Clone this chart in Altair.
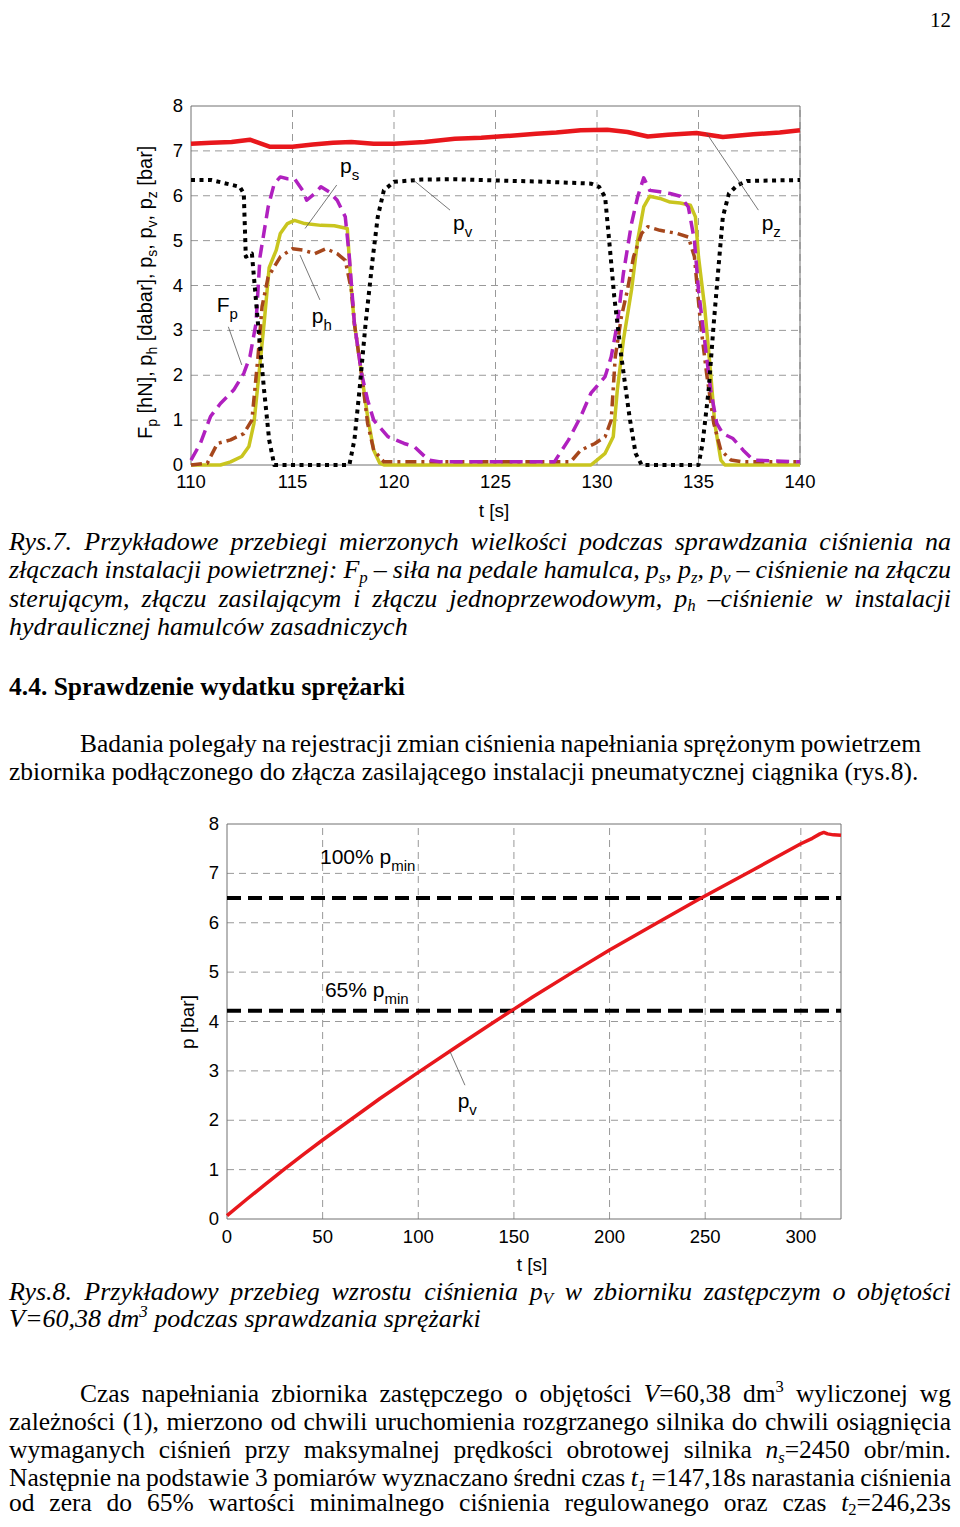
import string
import altair as alt
import pandas as pd

OFF = 8
W, H = 944, 1511

# ---------------- Rys.7 data (t [s], value) ----------------
pz_t = [110, 111, 112, 112.9, 113.9, 115, 116, 117, 117.9, 119, 120, 121.5, 123, 124.3, 125.5, 127, 128, 129.2,
        130.5, 131.5, 132.5, 133.5, 134.9, 136.2, 137.7, 139, 140]
pz_v = [7.16, 7.18, 7.2, 7.25, 7.09, 7.09, 7.14, 7.18, 7.2, 7.16, 7.16, 7.2, 7.27, 7.29, 7.33, 7.38, 7.41, 7.46,
        7.47, 7.42, 7.32, 7.36, 7.4, 7.31, 7.37, 7.41, 7.46]

pv_t = [110, 111, 112.4, 112.6, 112.7, 113.0, 113.3, 113.6, 113.85, 114.1, 117.8, 118.05, 118.3, 118.6, 118.96,
        119.2, 119.5, 120.0, 121.35, 123, 124.3, 127.6, 129.7, 130.1, 130.4, 130.6, 130.85, 131.2, 131.6, 131.9,
        132.2, 135.0, 135.2, 135.5, 135.75, 136.0, 136.2, 136.5, 136.9, 137.4, 140]
pv_v = [6.35, 6.35, 6.2, 6.05, 4.64, 4.71, 3.15, 1.67, 0.56, 0, 0, 0.56, 1.67, 3.15, 4.64,
        5.53, 6.12, 6.31, 6.36, 6.37, 6.35, 6.31, 6.27, 6.2, 5.97, 5.0, 3.75, 2.41, 1.08, 0.26,
        0, 0, 0.48, 1.67, 3.15, 4.49, 5.53, 6.05, 6.23, 6.33, 6.35]

ps_t = [110, 110.46, 110.96, 111.45, 112.1, 112.6, 112.9, 113.2, 113.4, 113.8, 114.1, 114.4, 114.75, 115.1, 115.5,
        115.7, 116.1, 116.4, 116.8, 117.2, 117.6, 117.8, 118.05, 118.4, 118.7, 119.0, 119.7, 120.5, 121.0, 121.7,
        122.3, 127.9, 128.6, 129.2, 129.7, 130.4, 130.7, 131.0, 131.3, 131.7, 132.0, 132.3, 132.6, 133.1, 133.6,
        134.1, 134.5, 134.8, 135.0, 135.3, 135.6, 135.9, 136.2, 136.7, 137.2, 137.7, 140]
ps_v = [0.11, 0.48, 1.08, 1.37, 1.67, 2.04, 2.41, 3.15, 4.64, 5.75, 6.27, 6.42, 6.38, 6.38, 6.12,
        5.9, 6.05, 6.2, 6.09, 5.9, 5.53, 4.64, 3.15, 2.04, 1.45, 1.0, 0.63, 0.48, 0.41, 0.11,
        0.07, 0.07, 0.56, 1.08, 1.6, 1.97, 2.41, 3.15, 4.27, 5.38, 5.97, 6.4, 6.12, 6.09, 6.05,
        5.99, 5.75, 5.0, 3.9, 2.78, 1.67, 0.93, 0.7, 0.59, 0.33, 0.11, 0.07]

ph_t = [110, 110.8, 111.3, 111.95, 112.6, 113.0, 113.3, 113.5, 113.8, 114.0, 114.4, 115.0, 115.5, 116.1, 116.65,
        117.2, 117.6, 117.9, 118.05, 118.4, 118.7, 119.0, 119.5, 128.7, 129.2, 129.9, 130.4, 130.7, 130.9, 131.2,
        131.5, 131.8, 132.2, 132.5, 133.1, 133.95, 134.5, 134.8, 135.1, 135.4, 135.75, 136.1, 136.6, 137.2, 140]
ph_v = [0.0, 0.04, 0.48, 0.56, 0.7, 1.0, 2.41, 3.53, 4.19, 4.34, 4.64, 4.82, 4.79, 4.71, 4.82,
        4.71, 4.56, 3.9, 3.15, 2.04, 0.93, 0.33, 0.07, 0.07, 0.33, 0.48, 0.63, 1.0, 2.41, 3.3,
        3.9, 4.64, 5.16, 5.31, 5.23, 5.16, 5.08, 4.64, 3.15, 2.04, 0.93, 0.33, 0.11, 0.07, 0.07]

fp_t = [110, 111.45, 111.95, 112.5, 112.85, 113.1, 113.35, 113.6, 113.85, 114.2, 114.4, 114.75, 115.1, 115.6,
        116.4, 117.06, 117.7, 117.9, 118.05, 118.4, 118.7, 119.0, 119.3, 119.5, 129.7, 130.0, 130.4, 130.8,
        131.0, 131.3, 131.7, 132.0, 132.3, 132.6, 133.1, 133.6, 134.1, 134.6, 134.85, 135.0, 135.3, 135.6,
        135.8, 136.1, 136.3, 140]
fp_v = [0, 0, 0.07, 0.19, 0.41, 0.93, 2.04, 3.15, 4.4, 4.79, 5.16, 5.38, 5.45, 5.38,
        5.34, 5.33, 5.27, 3.9, 3.15, 2.04, 1.08, 0.33, 0.04, 0, 0, 0.11, 0.26, 0.63,
        1.67, 2.78, 3.9, 5.0, 5.75, 5.99, 5.94, 5.86, 5.84, 5.79, 5.53, 4.64, 3.53, 2.04,
        0.93, 0.11, 0, 0]

ticks7_t = [110, 115, 120, 125, 130, 135, 140]
ticks7_v = [0, 1, 2, 3, 4, 5, 6, 7, 8]

ann7_main = ["p", "p", "F", "p", "p"]
ann7_sub = ["s", "v", "p", "h", "z"]
ann7_t = [117.34, 122.91, 111.27, 115.95, 138.11]
ann7_v = [6.51, 5.24, 3.42, 3.16, 5.24]
lead7_t1 = [117.18, 122.76, 111.84, 116.35, 137.95]
lead7_v1 = [6.24, 5.68, 3.08, 3.68, 5.68]
lead7_t2 = [115.62, 120.95, 112.50, 115.37, 135.40]
lead7_v2 = [5.27, 6.35, 2.23, 4.68, 7.39]

# ---------------- Rys.8 data ----------------
bv_t = [0, 10, 20, 30, 40, 50, 65, 80, 100, 120, 140, 160, 180, 200, 225, 246, 275, 300, 306, 310, 312, 314,
        317, 321]
bv_v = [0.07, 0.39, 0.7, 1.01, 1.31, 1.6, 2.02, 2.44, 2.97, 3.49, 4.0, 4.5, 4.98, 5.45, 6.0, 6.46, 7.07, 7.6,
        7.71, 7.8, 7.83, 7.8, 7.78, 7.77]
pmin_levels = [6.5, 4.22]
ticks8_t = [0, 50, 100, 150, 200, 250, 300]
ticks8_v = [0, 1, 2, 3, 4, 5, 6, 7, 8]
ann8_main = ["100% p", "65% p", "p"]
ann8_sub = ["min", "min", "v"]
ann8_t = [48.6, 51.2, 120.6]
ann8_v = [7.2, 4.5, 2.24]
lead8_t1 = [124.4]
lead8_v1 = [2.71]
lead8_t2 = [116.6]
lead8_v2 = [3.39]

# ---------------- page text ----------------
page_no = "12"
caption7 = [
    "Rys.7. Przykładowe przebiegi mierzonych wielkości podczas sprawdzania ciśnienia na",
    "złączach instalacji powietrznej: F_{p} – siła na pedale hamulca, p_{s}, p_{z}, p_{v} – ciśnienie na złączu",
    "sterującym, złączu zasilającym i złączu jednoprzewodowym, p_{h} –ciśnienie w instalacji",
    "hydraulicznej hamulców zasadniczych",
]
heading = "4.4. Sprawdzenie wydatku sprężarki"
para1 = [
    "Badania polegały na rejestracji zmian ciśnienia napełniania sprężonym powietrzem",
    "zbiornika podłączonego do złącza zasilającego instalacji pneumatycznej ciągnika (rys.8).",
]
caption8 = [
    "Rys.8. Przykładowy przebieg wzrostu ciśnienia p_{V} w zbiorniku zastępczym o objętości",
    "V=60,38 dm^{3} podczas sprawdzania sprężarki",
]
para2 = [
    "Czas napełniania zbiornika zastępczego o objętości *V*=60,38 dm^{3} wyliczonej wg",
    "zależności (1), mierzono od chwili uruchomienia rozgrzanego silnika do chwili osiągnięcia",
    "wymaganych ciśnień przy maksymalnej prędkości obrotowej silnika *n*_{*s*}=2450 obr/min.",
    "Następnie na podstawie 3 pomiarów wyznaczano średni czas *t*_{*1*} =147,18s narastania ciśnienia",
    "od zera do 65% wartości minimalnego ciśnienia regulowanego oraz czas *t*_{2}=246,23s",
]
ytitle7 = [("F", "n"), ("p", "sub"), (" [hN], p", "n"), ("h", "sub"), (" [dabar], p", "n"), ("s", "sub"),
           (", p", "n"), ("v", "sub"), (", p", "n"), ("z", "sub"), (" [bar]", "n")]
ytitle8 = [("p [bar]", "n")]
xtitle = "t [s]"


# ---------------- font metrics (approximate, per 1000 em) ----------------
def mk(lower, upper, extra):
    d = dict(zip(string.ascii_lowercase, map(int, lower.split())))
    d.update(zip(string.ascii_uppercase, map(int, upper.split())))
    d.update({c: extra.get("digit", 500) for c in string.digits})
    d.update(extra)
    return d


PUNCT_T = {" ": 250, ".": 250, ",": 250, ":": 278, ";": 278, "(": 333, ")": 333, "%": 833, "=": 564, "/": 278,
           "-": 333, "–": 500}
TIMES_R = mk("444 500 444 500 444 333 500 500 278 278 500 278 778 500 500 500 500 333 389 278 500 500 722 500 500 444",
             "722 667 667 722 611 556 722 722 333 389 722 611 889 722 722 556 722 667 556 611 722 722 944 722 722 611",
             PUNCT_T)
TIMES_I = mk("500 500 444 500 444 278 500 500 278 278 444 278 722 500 500 500 500 389 389 278 500 444 667 444 444 389",
             "611 611 667 722 611 611 722 722 333 444 667 556 833 667 722 611 722 611 500 556 722 611 833 611 556 556",
             dict(PUNCT_T, **{":": 333, "=": 675}))
TIMES_B = mk("500 556 444 556 444 333 500 556 278 333 556 278 833 556 500 556 556 444 389 333 556 500 722 500 500 444",
             "722 667 722 722 667 611 778 778 389 500 778 667 944 722 778 611 778 722 556 667 722 722 1000 722 722 667",
             PUNCT_T)
ARIAL = mk("556 556 500 556 556 278 556 556 222 222 500 222 833 556 556 556 556 333 500 278 556 500 722 500 500 500",
           "667 667 722 722 667 611 778 722 278 500 667 556 833 722 778 667 778 722 667 611 722 667 944 667 667 611",
           {"digit": 556, " ": 278, "[": 278, "]": 278, ",": 278, ".": 278, "%": 889})
DIAC = {"ą": "a", "ę": "e", "ś": "s", "ć": "c", "ń": "n", "ż": "z", "ź": "z", "ó": "o", "ł": "l"}
SUBSCALE = 0.65


def width(text, table, fs):
    return sum(table.get(DIAC.get(c, c), 500) for c in text) / 1000.0 * fs


def parse_line(line, italic0):
    chars, italic, kind, i = [], italic0, "n", 0
    while i < len(line):
        c = line[i]
        if c == "*":
            italic = not italic
        elif c in "_^" and line[i + 1:i + 2] == "{":
            kind = "sub" if c == "_" else "sup"
            i += 1
        elif c == "}" and kind != "n":
            kind = "n"
        else:
            chars.append((c, italic, kind))
        i += 1
    words, cur = [], []
    for ch in chars:
        if ch[0] == " " and ch[2] == "n":
            if cur:
                words.append(cur)
            cur = []
        else:
            cur.append(ch)
    if cur:
        words.append(cur)
    out = []
    for w in words:
        segs = []
        for c, it, k in w:
            if segs and segs[-1][1] == it and segs[-1][2] == k:
                segs[-1][0] += c
            else:
                segs.append([c, it, k])
        out.append(segs)
    return out


def seg_w(seg, fs, bold):
    text, it, kind = seg
    table = TIMES_B if bold else (TIMES_I if it else TIMES_R)
    return width(text, table, fs * (SUBSCALE if kind != "n" else 1))


def layout_line(line, x0, y, fs, italic0=False, bold=False, x1=None):
    words = parse_line(line, italic0)
    ws = [sum(seg_w(s, fs, bold) for s in w) for w in words]
    if x1 is not None and len(words) > 1:
        gap = (x1 - x0 - sum(ws)) / (len(words) - 1)
    else:
        gap = 0.25 * fs
    rows, x = [], x0
    for w, ww in zip(words, ws):
        cx = x
        for seg in w:
            text, it, kind = seg
            size = fs * SUBSCALE if kind != "n" else fs
            dy = 0.17 * fs if kind == "sub" else (-0.38 * fs if kind == "sup" else 0)
            style = "bold" if bold else ("italic" if it else "normal")
            rows.append(dict(x=cx - OFF, y=y + dy - OFF, text=text, size=size, style=style))
            cx += seg_w(seg, fs, bold)
        x += ww + gap
    return rows


LM, RM = 9, 951          # text block left / right edge on the page
serif_rows = []
serif_rows += layout_line(page_no, RM - width(page_no, TIMES_R, 21), 27, 21)
FS_I, FS_R = 26, 25.5
for i, (ln, yb) in enumerate(zip(caption7, [550, 578.3, 606.7, 635])):
    serif_rows += layout_line(ln, LM, yb, FS_I, italic0=True, x1=RM if i < len(caption7) - 1 else None)
serif_rows += layout_line(heading, LM, 695, 25.5, bold=True)
serif_rows += layout_line(para1[0], 80, 751.7, FS_R, x1=921)
serif_rows += layout_line(para1[1], LM, 780, FS_R)
serif_rows += layout_line(caption8[0], LM, 1300, FS_I, italic0=True, x1=RM)
serif_rows += layout_line(caption8[1], LM, 1326.7, FS_I, italic0=True)
for i, (ln, yb) in enumerate(zip(para2, [1401.7, 1430, 1458.3, 1486.2, 1511])):
    serif_rows += layout_line(ln, 80 if i == 0 else LM, yb, FS_R, x1=RM)
serif_df = pd.DataFrame(serif_rows)


def rot_rows(pieces, xb, y0, fs, fs_sub, shift):
    rows, L = [], 0.0
    for text, kind in pieces:
        size = fs if kind == "n" else fs_sub
        lead = len(text) - len(text.lstrip(" "))
        L += width(" " * lead, ARIAL, size)
        t = text.strip(" ")
        rows.append(dict(x=xb + (shift if kind == "sub" else 0) - OFF, y=y0 - L - OFF, text=t, size=size))
        L += width(t, ARIAL, size)
    return rows


rot_df = pd.DataFrame(rot_rows(ytitle7, 152, 439, 20, 14, 5)
                      + rot_rows(ytitle8, 194, 1022 + width(ytitle8[0][0], ARIAL, 19) / 2, 19, 14, 5))
xt_df = pd.DataFrame([dict(x=494 - OFF, y=517 - OFF, text=xtitle, size=19),
                      dict(x=532 - OFF, y=1271 - OFF, text=xtitle, size=19)])

# ---------------- scales ----------------
TX = alt.Scale(domain=[110, 140], range=[191 - OFF, 800 - OFF], nice=False, zero=False)
TY = alt.Scale(domain=[0, 8], range=[465 - OFF, 106 - OFF], nice=False, zero=False)
BX = alt.Scale(domain=[0, 321], range=[227 - OFF, 841 - OFF], nice=False, zero=False)
BY = alt.Scale(domain=[0, 8], range=[1219 - OFF, 824 - OFF], nice=False, zero=False)

GRID = dict(color="#999999", strokeWidth=1, strokeDash=[7, 5])
FRAME = dict(fillOpacity=0, stroke="#707070", strokeWidth=1)
TICKFONT = dict(font="Liberation Sans", fontSize=18.5, color="black")


def pair(ts, vs, name):
    assert len(ts) == len(vs), (name, len(ts), len(vs))
    return pd.DataFrame({"t": ts, "v": vs})


def plot_layers(sx, sy, xdom, ydom, xticks, yticks, xdy):
    xgrid, ygrid = xticks[1:], yticks[1:-1]
    gv = alt.Chart(pd.DataFrame({"t": xgrid, "a": ydom[0], "b": ydom[1]})).mark_rule(**GRID).encode(
        x=alt.X("t:Q", scale=sx, axis=None), y=alt.Y("a:Q", scale=sy, axis=None), y2="b:Q")
    gh = alt.Chart(pd.DataFrame({"v": ygrid, "a": xdom[0], "b": xdom[1]})).mark_rule(**GRID).encode(
        y=alt.Y("v:Q", scale=sy, axis=None), x=alt.X("a:Q", scale=sx, axis=None), x2="b:Q")
    fr = alt.Chart(pd.DataFrame({"a": [xdom[0]], "b": [xdom[1]], "c": [ydom[0]], "d": [ydom[1]]})).mark_rect(
        **FRAME).encode(x=alt.X("a:Q", scale=sx, axis=None), x2="b:Q", y=alt.Y("c:Q", scale=sy, axis=None),
                        y2="d:Q")
    xl = alt.Chart(pd.DataFrame({"t": xticks, "v": ydom[0]})).mark_text(
        align="center", baseline="middle", dy=xdy, **TICKFONT).encode(
        x=alt.X("t:Q", scale=sx, axis=None), y=alt.Y("v:Q", scale=sy, axis=None), text=alt.Text("t:Q", format="d"))
    yl = alt.Chart(pd.DataFrame({"v": yticks, "t": xdom[0]})).mark_text(
        align="right", baseline="middle", dx=-8, **TICKFONT).encode(
        x=alt.X("t:Q", scale=sx, axis=None), y=alt.Y("v:Q", scale=sy, axis=None), text=alt.Text("v:Q", format="d"))
    return [gv, gh, fr, xl, yl]


def line(df, sx, sy, **kw):
    return alt.Chart(df).mark_line(strokeJoin="round", **kw).encode(
        x=alt.X("t:Q", scale=sx, axis=None), y=alt.Y("v:Q", scale=sy, axis=None))


def leaders(t1, v1, t2, v2, sx, sy):
    df = pd.DataFrame({"t1": t1, "v1": v1, "t2": t2, "v2": v2})
    return alt.Chart(df).mark_rule(color="#555555", strokeWidth=0.8).encode(
        x=alt.X("t1:Q", scale=sx, axis=None), x2="t2:Q", y=alt.Y("v1:Q", scale=sy, axis=None), y2="v2:Q")


def annotations(mains, subs, ts, vs, sx, sy, px_t, px_v, fs=21, fs_sub=15, drop=7):
    rows = []
    for m, s, t, v in zip(mains, subs, ts, vs):
        rows.append(dict(t=t, v=v, text=m, size=fs))
        rows.append(dict(t=t + width(m, ARIAL, fs) / px_t, v=v - drop / px_v, text=s, size=fs_sub))
    return alt.Chart(pd.DataFrame(rows)).mark_text(
        align="left", baseline="alphabetic", font="Liberation Sans", color="black").encode(
        x=alt.X("t:Q", scale=sx, axis=None), y=alt.Y("v:Q", scale=sy, axis=None), text="text:N",
        size=alt.Size("size:Q", scale=None, legend=None))


# ---------------- Rys.7 ----------------
PX_T7, PX_V7 = (800 - 191) / 30.0, (465 - 106) / 8.0
top = alt.layer(
    *plot_layers(TX, TY, [110, 140], [0, 8], ticks7_t, ticks7_v, 16.5),
    line(pair(fp_t, fp_v, "Fp"), TX, TY, color="#c9c51f", strokeWidth=3.5),
    line(pair(ph_t, ph_v, "ph"), TX, TY, color="#a6471c", strokeWidth=3.5, strokeDash=[11, 5, 3, 5]),
    line(pair(ps_t, ps_v, "ps"), TX, TY, color="#b020bf", strokeWidth=3.5, strokeDash=[13, 7]),
    line(pair(pv_t, pv_v, "pv"), TX, TY, color="#000000", strokeWidth=4, strokeDash=[4, 4.5]),
    line(pair(pz_t, pz_v, "pz"), TX, TY, color="#e8171c", strokeWidth=4.5),
    leaders(lead7_t1, lead7_v1, lead7_t2, lead7_v2, TX, TY),
    annotations(ann7_main, ann7_sub, ann7_t, ann7_v, TX, TY, PX_T7, PX_V7),
)

# ---------------- Rys.8 ----------------
PX_T8, PX_V8 = (841 - 227) / 321.0, (1219 - 824) / 8.0
lvl = alt.Chart(pd.DataFrame({"v": pmin_levels, "a": 0, "b": 321})).mark_rule(
    color="black", strokeWidth=4, strokeDash=[14, 7]).encode(
    y=alt.Y("v:Q", scale=BY, axis=None), x=alt.X("a:Q", scale=BX, axis=None), x2="b:Q")
bottom = alt.layer(
    *plot_layers(BX, BY, [0, 321], [0, 8], ticks8_t, ticks8_v, 18),
    lvl,
    line(pair(bv_t, bv_v, "pV"), BX, BY, color="#e8171c", strokeWidth=3.5),
    leaders(lead8_t1, lead8_v1, lead8_t2, lead8_v2, BX, BY),
    annotations(ann8_main, ann8_sub, ann8_t, ann8_v, BX, BY, PX_T8, PX_V8),
)

# ---------------- page text layers ----------------
PX = dict(x=alt.X("x:Q", scale=None, axis=None), y=alt.Y("y:Q", scale=None, axis=None), text="text:N",
          size=alt.Size("size:Q", scale=None, legend=None))


def serif_layer(style):
    df = serif_df[serif_df["style"] == style]
    kw = dict(align="left", baseline="alphabetic", font="Liberation Serif", color="black")
    if style == "italic":
        kw["fontStyle"] = "italic"
    if style == "bold":
        kw["fontWeight"] = "bold"
    return alt.Chart(df).mark_text(**kw).encode(**PX)


rot_layer = alt.Chart(rot_df).mark_text(align="left", baseline="alphabetic", angle=270, font="Liberation Sans",
                                        color="black").encode(**PX)
xt_layer = alt.Chart(xt_df).mark_text(align="center", baseline="alphabetic", font="Liberation Sans",
                                      color="black").encode(**PX)

chart = alt.layer(
    top, bottom, serif_layer("normal"), serif_layer("italic"), serif_layer("bold"), rot_layer, xt_layer
).resolve_scale(x="independent", y="independent").properties(
    width=W, height=H, padding=0, autosize=alt.AutoSizeParams(type="none")
).configure_view(strokeWidth=0)

chart.save("out.html", embed_options={"renderer": "svg", "actions": False})
